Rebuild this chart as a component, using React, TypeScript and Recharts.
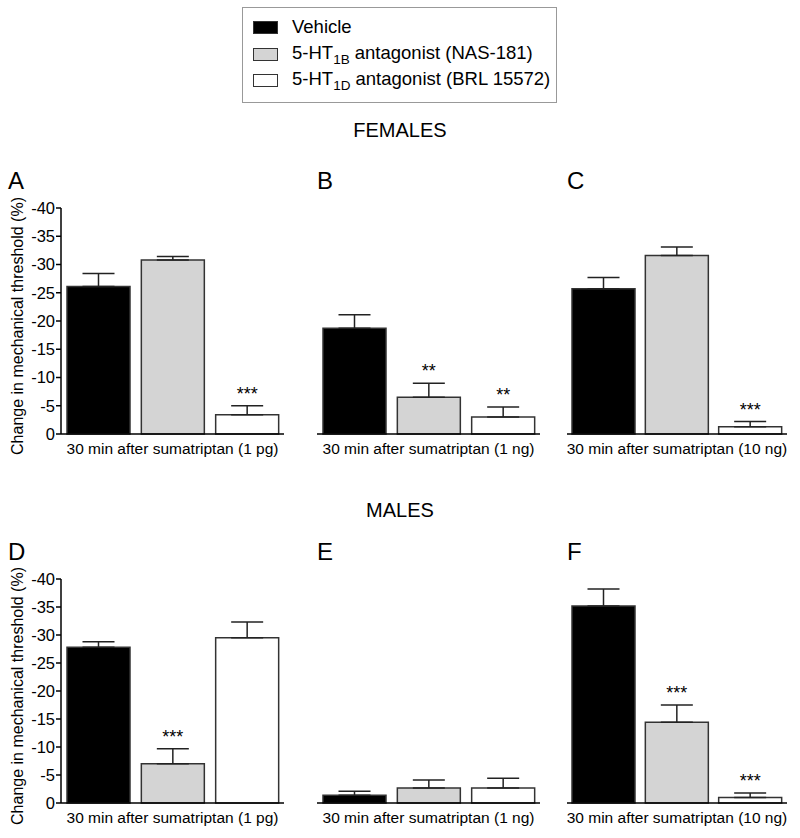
import React from 'react';
import { BarChart, Bar, XAxis, YAxis, ErrorBar, Cell, LabelList } from 'recharts';

const FONT = '"Liberation Sans", Arial, sans-serif';

const groups = ['Vehicle', '5-HT1B antagonist (NAS-181)', '5-HT1D antagonist (BRL 15572)'];
const groupFills = ['#000000', '#d4d4d4', '#ffffff'];
const yTicks = [-40, -35, -30, -25, -20, -15, -10, -5, 0];
const xLabels = [
    '30 min after sumatriptan (1 pg)',
    '30 min after sumatriptan (1 ng)',
    '30 min after sumatriptan (10 ng)',
];

// females
const femA = [-26.1, -30.8, -3.4];
const femAErr = [2.3, 0.6, 1.6];
const femASig = ['', '', '***'];
const femB = [-18.7, -6.5, -3.0];
const femBErr = [2.4, 2.5, 1.8];
const femBSig = ['', '**', '**'];
const femC = [-25.7, -31.6, -1.3];
const femCErr = [2.0, 1.5, 0.9];
const femCSig = ['', '', '***'];

// males
const malD = [-27.8, -7.0, -29.5];
const malDErr = [1.0, 2.7, 2.8];
const malDSig = ['', '***', ''];
const malE = [-1.4, -2.7, -2.7];
const malEErr = [0.7, 1.4, 1.7];
const malESig = ['', '', ''];
const malF = [-35.2, -14.4, -1.0];
const malFErr = [3.0, 3.1, 0.8];
const malFSig = ['', '***', '***'];

interface PanelProps {
    letter: string;
    values: number[];
    errs: number[];
    sigs: string[];
    xLabel: string;
    plotLeft: number;
    plotTop: number;
    plotWidth: number;
    plotHeight: number;
    showY?: boolean;
}

const TOP = 40;

function Panel({ letter, values, errs, sigs, xLabel, plotLeft, plotTop, plotWidth, plotHeight, showY = false }: PanelProps) {
    const rows = groups.map((g, i) => ({ group: g, value: values[i], err: [errs[i], 0], sig: sigs[i] }));
    const yw = showY ? 61 : 0;
    const ml = showY ? 0 : 6;
    const width = yw + ml + plotWidth + 6;
    const height = TOP + plotHeight + 30;
    const left = plotLeft - yw - ml;

    const renderStars = (props: any) => {
        const vb = props.viewBox ?? props;
        const row = rows[props.index];
        if (!row || !row.sig) return null;
        const top = Math.min(vb.y, vb.y + vb.height);
        const px = Math.abs(vb.height) / Math.abs(row.value);
        const errTop = top - row.err[0] * px;
        return (
            <text x={vb.x + vb.width / 2} y={errTop - 6} textAnchor="middle" fontSize={18} fontFamily={FONT} fill="#000">
                {row.sig}
            </text>
        );
    };

    return (
        <>
            <div style={{ position: 'absolute', left: letter === 'A' || letter === 'D' ? 8 : plotLeft, top: plotTop - 39, fontSize: 24, lineHeight: 1, fontFamily: FONT }}>
                {letter}
            </div>
            <div style={{ position: 'absolute', left, top: plotTop - TOP }}>
                <BarChart width={width} height={height} data={rows} margin={{ top: TOP, right: 6, left: ml, bottom: 0 }} barSize={63}>
                    <XAxis
                        dataKey="group"
                        tick={false}
                        tickLine={false}
                        height={30}
                        axisLine={{ stroke: '#000', strokeWidth: 1.5 }}
                        label={{ value: xLabel, position: 'insideTop', offset: 9, fill: '#000', fontSize: 15.5, fontFamily: FONT }}
                    />
                    <YAxis
                        hide={!showY}
                        width={yw}
                        domain={[-40, 0]}
                        ticks={yTicks}
                        reversed
                        tickSize={5}
                        tickMargin={1}
                        axisLine={{ stroke: '#000', strokeWidth: 1.5 }}
                        tickLine={{ stroke: '#000', strokeWidth: 1.5 }}
                        tick={{ fill: '#000', fontSize: 16.5, fontFamily: FONT }}
                        label={{
                            value: 'Change in mechanical threshold (%)',
                            angle: -90,
                            position: 'insideLeft',
                            offset: 17,
                            dy: 5,
                            fill: '#000',
                            fontSize: 16,
                            fontFamily: FONT,
                            style: { textAnchor: 'middle' },
                        }}
                    />
                    <Bar dataKey="value" stroke="#333" strokeWidth={1.5} isAnimationActive={false}>
                        {rows.map((r, i) => (
                            <Cell key={r.group} fill={groupFills[i]} />
                        ))}
                        <ErrorBar dataKey="err" width={16} stroke="#222" strokeWidth={1.5} direction="y" isAnimationActive={false} />
                        <LabelList dataKey="sig" content={renderStars} />
                    </Bar>
                </BarChart>
            </div>
        </>
    );
}

function Legend() {
    const swatch = (i: number) => (
        <div style={{ width: 25, height: 13, background: groupFills[i], border: '1px solid #333', boxSizing: 'border-box', marginRight: 14 }} />
    );
    const rowStyle: React.CSSProperties = { position: 'absolute', left: 10, height: 26, display: 'flex', alignItems: 'center' };
    return (
        <div
            style={{
                position: 'absolute',
                left: 242,
                top: 7,
                width: 315,
                height: 96,
                border: '1px solid #999',
                boxSizing: 'border-box',
                fontFamily: FONT,
                fontSize: 18.5,
            }}
        >
            <div style={{ ...rowStyle, top: 6 }}>
                {swatch(0)}
                <span>{groups[0]}</span>
            </div>
            <div style={{ ...rowStyle, top: 33 }}>
                {swatch(1)}
                <span>
                    5-HT<sub style={{ fontSize: 13.5, verticalAlign: -5 }}>1B</sub> antagonist (NAS-181)
                </span>
            </div>
            <div style={{ ...rowStyle, top: 59 }}>
                {swatch(2)}
                <span>
                    5-HT<sub style={{ fontSize: 13.5, verticalAlign: -5 }}>1D</sub> antagonist (BRL 15572)
                </span>
            </div>
        </div>
    );
}

export default function App() {
    const title: React.CSSProperties = { position: 'absolute', left: 0, width: 800, textAlign: 'center', fontSize: 20, lineHeight: 1, fontFamily: FONT };
    return (
        <div style={{ position: 'absolute', left: 0, top: 0, width: 800, height: 838, background: '#fff' }}>
            <Legend />
            <div style={{ ...title, top: 120 }}>FEMALES</div>
            <div style={{ ...title, top: 500 }}>MALES</div>

            <Panel letter="A" values={femA} errs={femAErr} sigs={femASig} xLabel={xLabels[0]} plotLeft={61} plotTop={208} plotWidth={223} plotHeight={226} showY />
            <Panel letter="B" values={femB} errs={femBErr} sigs={femBSig} xLabel={xLabels[1]} plotLeft={317} plotTop={208} plotWidth={223} plotHeight={226} />
            <Panel letter="C" values={femC} errs={femCErr} sigs={femCSig} xLabel={xLabels[2]} plotLeft={567} plotTop={208} plotWidth={220} plotHeight={226} />

            <Panel letter="D" values={malD} errs={malDErr} sigs={malDSig} xLabel={xLabels[0]} plotLeft={61} plotTop={579} plotWidth={223} plotHeight={224} showY />
            <Panel letter="E" values={malE} errs={malEErr} sigs={malESig} xLabel={xLabels[1]} plotLeft={317} plotTop={579} plotWidth={223} plotHeight={224} />
            <Panel letter="F" values={malF} errs={malFErr} sigs={malFSig} xLabel={xLabels[2]} plotLeft={567} plotTop={579} plotWidth={220} plotHeight={224} />
        </div>
    );
}
